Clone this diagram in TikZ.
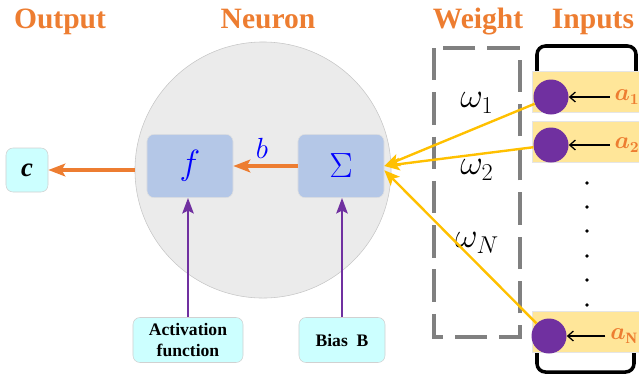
\documentclass[tikz,border=0pt]{standalone}
\usepackage{fontspec}
\setmainfont{Liberation Serif}
\usetikzlibrary{arrows.meta}
\definecolor{orangeT}{HTML}{ED7D31}
\definecolor{boxblue}{HTML}{B4C7E7}
\definecolor{cyanbox}{HTML}{CCFFFF}
\definecolor{goldY}{HTML}{FFC000}
\definecolor{purpleA}{HTML}{7030A0}
\definecolor{sandY}{HTML}{FFE699}
\definecolor{neurongray}{HTML}{EBEBEB}
\begin{document}
\begin{tikzpicture}[x=0.025cm, y=-0.025cm,
    headtxt/.style={anchor=base, text=orangeT, font=\fontsize{21}{24}\selectfont\bfseries},
    opbox/.style={draw=black!12, fill=boxblue, rounded corners=5pt, minimum width=2.15cm, minimum height=1.58cm, text=blue, font=\fontsize{28}{30}\selectfont},
    tagbox/.style={draw=black!18, fill=cyanbox, rounded corners=5pt, font=\fontsize{12.5}{14.5}\selectfont\bfseries, align=center, minimum height=1.125cm},
    flow/.style={draw=orangeT, line width=2.4pt, -{Stealth[length=12pt,width=9pt,inset=2.5pt]}},
    biasarrow/.style={draw=purpleA, line width=2pt, -{Stealth[length=11pt,width=8pt,inset=2pt]}},
    wline/.style={draw=goldY, line width=1.7pt, -{Stealth[length=11pt,width=9pt,inset=2.5pt]}},
    inrow/.style={draw=black!10, fill=sandY, minimum width=2.75cm, minimum height=1.03cm},
    incircle/.style={circle, fill=purpleA, inner sep=0pt, minimum size=0.875cm},
    alabel/.style={text=orangeT, font=\fontsize{16}{18}\selectfont\boldmath},
    wlabel/.style={font=\fontsize{23}{26}\selectfont}]
    \useasboundingbox (0,0) rectangle (639,378);

    \node[headtxt] (hout) at (60,28) {Output};
    \node[headtxt] (hneu) at (268,28) {Neuron};
    \node[headtxt] (hwei) at (478,28) {Weight};
    \node[headtxt] (hinp) at (593,28) {Inputs};

    \node[circle, fill=neurongray, draw=black!22, minimum size=6.4cm] (neuron) at (263,170) {};
    \node[opbox] (fbox) at (190,166) {$f$};
    \node[opbox] (sigma) at (341,166) {$\Sigma$};
    \node[text=blue, font=\fontsize{20}{22}\selectfont] (blab) at (262,148) {$b$};
    \draw[flow] (sigma) -- (fbox);

    \node[tagbox, minimum width=1.05cm, minimum height=1.1cm, font=\fontsize{19}{21}\selectfont] (cbox) at (27,170) {\textbf{\textit{c}}};
    \draw[flow] (neuron.west) -- (cbox);

    \node[tagbox, minimum width=2.75cm] (actbox) at (188,340) {Activation\\function};
    \node[tagbox, minimum width=2.15cm] (biasbox) at (342,340) {Bias\ \ B};
    \draw[biasarrow] (actbox.north) -- (actbox.north |- fbox.south);
    \draw[biasarrow] (biasbox.north) -- (biasbox.north |- sigma.south);

    \draw[black!50, line width=2.8pt, dash pattern=on 23pt off 8.5pt] (434,48) rectangle (520,337);
    \node[wlabel] (w1) at (477,103) {$\omega_1$};
    \node[wlabel] (w2) at (477,170) {$\omega_2$};
    \node[wlabel] (wN) at (477,243) {$\omega_N$};

    \draw[line width=2.5pt, rounded corners=6pt] (537,72) -- (537,46) -- (636,46) -- (636,72);
    \draw[line width=2.5pt, rounded corners=6pt] (537,350) -- (537,372) -- (634,372) -- (634,350);
    \node[inrow] (row1) at (587,92) {};
    \node[inrow] (row2) at (587,142) {};
    \node[inrow] (rowN) at (587,332) {};
    \node[incircle] (in1) at (551,97) {};
    \node[incircle] (in2) at (551,145) {};
    \node[incircle] (inN) at (549,336) {};
    \node[alabel] (a1) at (627,97) {$a_{1}$};
    \node[alabel] (a2) at (627,145) {$a_{2}$};
    \node[alabel] (aN) at (624,336) {$a_{\mathrm{N}}$};
    \foreach \i in {1,2,N}
        \draw[-{Straight Barb[length=4pt,width=7pt]}, line width=0.9pt] (a\i) -- (in\i);
    \foreach \y in {183,207,231,256,280,305}
        \fill (587,\y) circle (1.4pt);

    \draw[wline] (in1) -- (sigma.east);
    \draw[wline] (in2) -- (sigma.east);
    \draw[wline] (inN) -- ([yshift=-3pt]sigma.east);
\end{tikzpicture}
\end{document}
